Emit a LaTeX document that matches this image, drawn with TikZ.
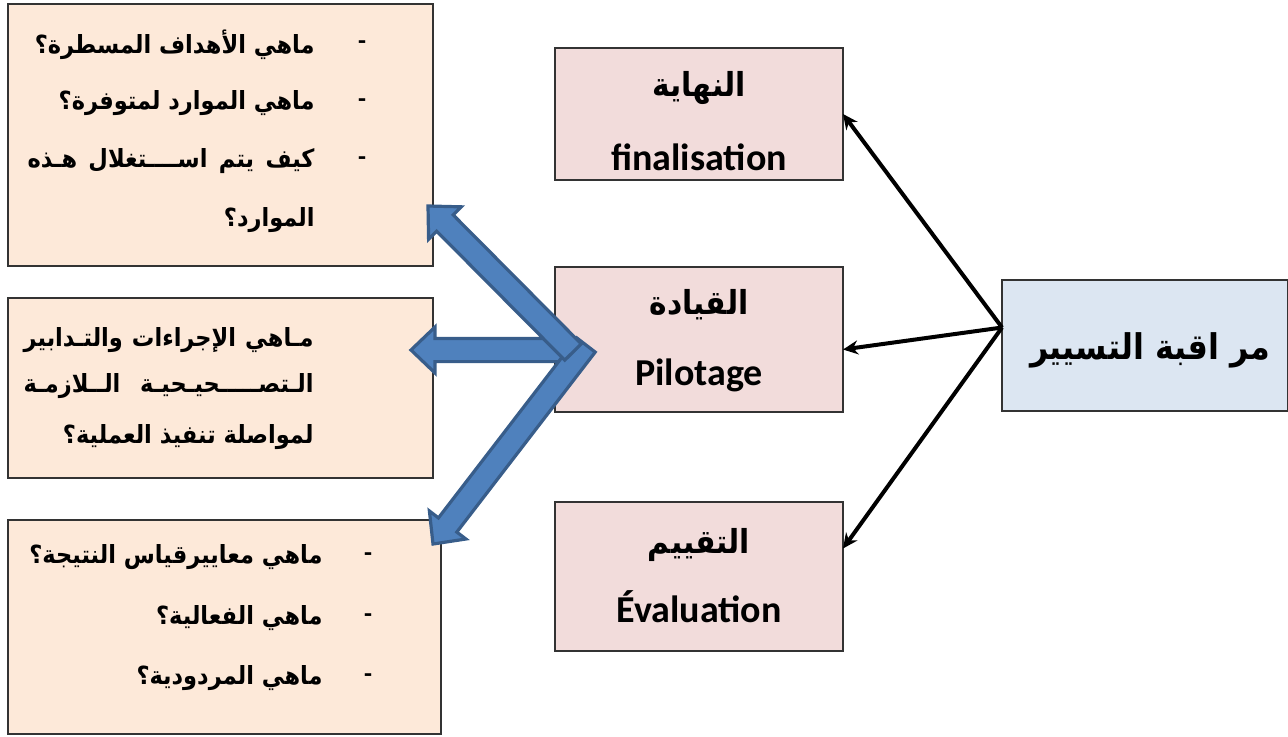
\documentclass[tikz,border=0pt]{standalone}
\usepackage{fontspec}
\setmainfont{Carlito}
\newfontfamily\arabicfont[Script=Arabic,FakeStretch=0.9]{DejaVu Sans}
\TeXXeTstate=1
\usetikzlibrary{calc,arrows.meta}
\definecolor{peach}{HTML}{FDE9D9}
\definecolor{rose}{HTML}{F2DCDB}
\definecolor{paleblue}{HTML}{DCE6F2}
\definecolor{arrowfill}{HTML}{4F81BD}
\definecolor{arrowline}{HTML}{385D8A}
% Arabic run, right to left
\newcommand\artext[1]{{\arabicfont\bfseries\beginR #1\endR}}
% block arrow from tail #1 to apex #2
\newcommand\blockarrow[2]{%
  \coordinate (#2-b) at ($(#2)!12pt!(#1)$);
  \filldraw[blockarrow] ($(#1)!5.8pt!90:(#2)$) -- ($(#2-b)!5.8pt!90:(#2)$)
    -- ($(#2-b)!11.5pt!90:(#2)$) -- (#2) -- ($(#2-b)!11.5pt!-90:(#2)$)
    -- ($(#2-b)!5.8pt!-90:(#2)$) -- ($(#1)!5.8pt!-90:(#2)$) -- cycle;}
\begin{document}
\begin{tikzpicture}[x=0.5pt,y=-0.5pt,
  boxbase/.style={draw=black!80,line width=0.6pt,inner sep=0pt,outer sep=0pt},
  qbox/.style={boxbase,fill=peach},
  mbox/.style={boxbase,fill=rose},
  cbox/.style={boxbase,fill=paleblue},
  qline/.style={inner sep=0pt,font=\fontsize{12.5}{14}\selectfont},
  bullet/.style={inner sep=0pt,font=\fontsize{13}{15}\selectfont\bfseries},
  artitle/.style={inner sep=0pt,font=\fontsize{16.5}{19}\selectfont},
  latitle/.style={inner sep=0pt,font=\fontsize{19}{21}\selectfont\bfseries},
  blockarrow/.style={fill=arrowfill,draw=arrowline,line width=1.6pt,line join=miter},
  conn/.style={-{Stealth[length=7.5pt,width=7pt]},line width=2pt}]
\useasboundingbox (0,0) rectangle (1288,736);

% question boxes on the left
\node[qbox,minimum width=212.5pt,minimum height=131pt] (q1) at (220.5,135) {};
\node[qbox,minimum width=212.5pt,minimum height=90pt] (q2) at (220.5,388) {};
\node[qbox,minimum width=216.5pt,minimum height=107pt] (q3) at (224.5,627) {};

% stages in the middle
\node[mbox,minimum width=144pt,minimum height=66pt] (fin) at (699,114) {};
\node[mbox,minimum width=144pt,minimum height=72.5pt] (pil) at (699,339.5) {};
\node[mbox,minimum width=144pt,minimum height=74.5pt] (eva) at (699,576.5) {};

% control box on the right
\node[cbox,minimum width=143pt,minimum height=65.5pt] (ctrl) at (1145,345.5) {};

% texts of the first box
\node[bullet] (d1) at (362,45) {-};
\node[bullet] (d2) at (362,103) {-};
\node[bullet] (d3) at (362,161) {-};
\node[qline,anchor=east] (q1a) at (315,45) {\artext{ماهي الأهداف المسطرة؟}};
\node[qline,anchor=east] (q1b) at (315,103) {\artext{ماهي الموارد لمتوفرة؟}};
\node[qline,anchor=east] (q1c) at (315,161) {\makebox[143.5pt][s]{\artext{كيف\hfill يتم\hfill اســــتغلال\hfill هـذه}}};
\node[qline,anchor=east] (q1d) at (315,220) {\artext{الموارد؟}};

% texts of the second box
\node[qline,anchor=east] (q2a) at (314,340) {\makebox[145pt][s]{\artext{مـاهي\hfill الإجراءات\hfill والتـدابير}}};
\node[qline,anchor=east] (q2b) at (314,386) {\makebox[145pt][s]{\artext{الـتصـــــحيـحيـة\hfill الــلازمـة}}};
\node[qline,anchor=east] (q2c) at (314,437) {\artext{لمواصلة تنفيذ العملية؟}};

% texts of the third box
\node[bullet] (d4) at (368,557) {-};
\node[bullet] (d5) at (368,618) {-};
\node[bullet] (d6) at (368,678) {-};
\node[qline,anchor=east] (q3a) at (323,557) {\artext{ماهي معاييرقياس النتيجة؟}};
\node[qline,anchor=east] (q3b) at (323,618) {\artext{ماهي الفعالية؟}};
\node[qline,anchor=east] (q3c) at (323,678) {\artext{ماهي المردودية؟}};

% stage titles
\node[artitle] (finar) at (699,88) {\artext{النهاية}};
\node[latitle] (finla) at (699,157) {finalisation};
\node[artitle] (pilar) at (699,305) {\artext{القيادة}};
\node[latitle] (pilla) at (699,375) {Pilotage};
\node[artitle] (evaar) at (699,545) {\artext{التقييم}};
\node[latitle] (evala) at (699,607) {Évaluation};

% control title
\node[inner sep=0pt,font=\fontsize{17.7}{20}\selectfont] (ctrlt) at (1150,350) {\artext{مر اقبة التسيير}};

% block arrows from the steering stage
\coordinate (t2) at (565,350);
\coordinate (h2) at (411,350);
\coordinate (t3) at (586,345);
\coordinate (h3) at (433,544);
\coordinate (t1) at (573,352);
\coordinate (h1) at (428,206);
\blockarrow{t2}{h2}
\blockarrow{t3}{h3}
\blockarrow{t1}{h1}

% connectors from the control box
\coordinate (o) at ($(ctrl.west)+(0,-18)$);
\draw[conn] (o) -- (fin.east);
\draw[conn] (o) -- ($(pil.east)+(0,10)$);
\draw[conn] (o) -- ($(eva.east)+(0,-28)$);
\end{tikzpicture}
\end{document}
